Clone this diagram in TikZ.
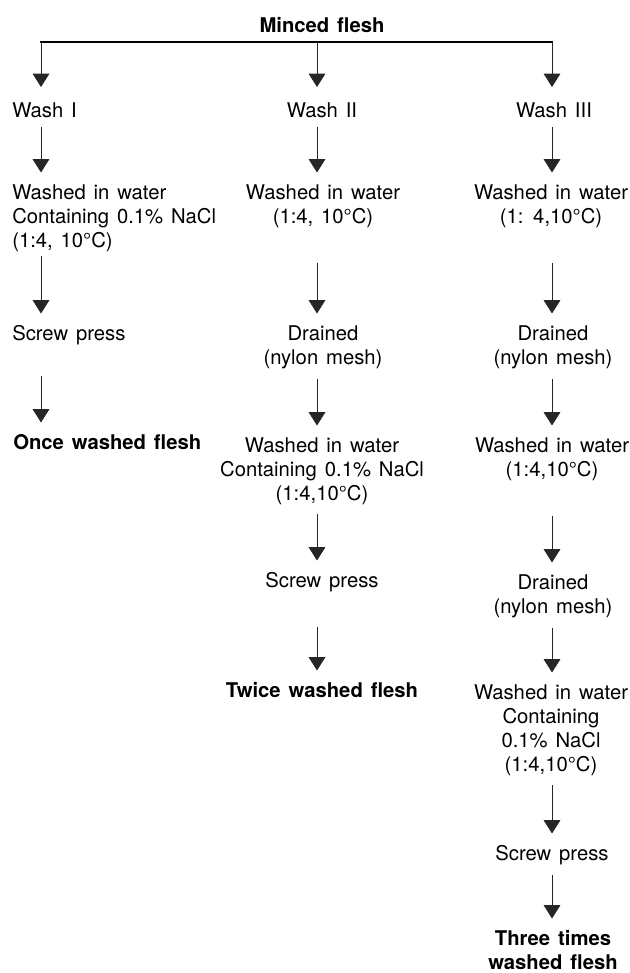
\documentclass[tikz,border=0pt]{standalone}
\usepackage{fontspec}
\setmainfont{TeX Gyre Heros}[WordSpace=1.4]
\usepackage{tikz}
\usetikzlibrary{arrows.meta}

\begin{document}
\begin{tikzpicture}[x=0.75pt,y=0.75pt,yscale=-1,xscale=1,
  txt/.style={inner sep=0pt, anchor=north, align=center, font=\fontsize{15.2}{18}\selectfont},
  txtl/.style={txt, anchor=north west, align=left},
  bold/.style={font=\fontsize{15.2}{18}\selectfont\bfseries},
  flow/.style={draw=black!85, line width=0.6pt, -{Triangle[width=12.5pt,length=10pt]}, shorten <=7pt, shorten >=9pt},
  longgap/.style={shorten <=26pt}]
\useasboundingbox (0,0) rectangle (630,973);

% Text Node
\draw (322,17.5) node [txt, bold] (mf) {Minced flesh};

%Split line
\coordinate (colA) at (41,42);
\coordinate (colB) at (317,42);
\coordinate (colC) at (552,42);
\draw [line width=1.1pt, line cap=rect]  (colA) -- (colC) ;

% Text Node
\draw (12,102.5) node [txtl] (w1) {Wash I};
% Text Node
\draw (12,184.5) node [txtl] (a1) {Washed in water\\Containing 0.1\% NaCl\\(1:4, 10°C)};
% Text Node
\draw (12,325.5) node [txtl] (s1) {Screw press};
% Text Node
\draw (13,434.5) node [txtl, bold] (o1) {Once washed flesh};

% Text Node
\draw (322,102.5) node [txt] (w2) {Wash II};
% Text Node
\draw (323,184.5) node [txt] (a2) {Washed in water\\(1:4, 10°C)};
% Text Node
\draw (323,325.5) node [txt] (d2) {Drained\\(nylon mesh)};
% Text Node
\draw (322,437.5) node [txt] (b2) {Washed in water\\Containing 0.1\% NaCl\\(1:4,10°C)};
% Text Node
\draw (322,572.5) node [txt] (s2) {Screw press};
% Text Node
\draw (322,682.5) node [txt, bold] (t2) {Twice washed flesh};

% Text Node
\draw (554,102.5) node [txt] (w3) {Wash III};
% Text Node
\draw (551,184.5) node [txt] (a3) {Washed in water\\(1: 4,10°C)};
% Text Node
\draw (553,325.5) node [txt] (d3) {Drained\\(nylon mesh)};
% Text Node
\draw (552,437.5) node [txt] (b3) {Washed in water\\(1:4,10°C)};
% Text Node
\draw (553,574.5) node [txt] (e3) {Drained\\(nylon mesh)};
% Text Node
\draw (551,684.5) node [txt] (f3) {Washed in water\\Containing\\0.1\% NaCl\\(1:4,10°C)};
% Text Node
\draw (552,845.5) node [txt] (s3) {Screw press};
% Text Node
\draw (553,930.5) node [txt, bold] (t3) {Three times\\washed flesh};

%Straight Lines (drops from split line)
\draw [flow, shorten <=0pt, shorten >=11.6pt]  (colA) -- (w1.north -| colA) ;
\draw [flow, shorten <=0pt, shorten >=11.6pt]  (colB) -- (w2.north -| colB) ;
\draw [flow, shorten <=0pt, shorten >=11.6pt]  (colC) -- (w3.north -| colC) ;

%Straight Lines (Wash I)
\draw [flow]  (w1.south -| colA) -- (a1.north -| colA) ;
\draw [flow, shorten <=3pt]  (a1.south -| colA) -- (s1.north -| colA) ;
\draw [flow, shorten <=23pt]  (s1.south -| colA) -- (o1.north -| colA) ;

%Straight Lines (Wash II)
\draw [flow]  (w2.south -| colB) -- (a2.north -| colB) ;
\draw [flow, longgap]  (a2.south -| colB) -- (d2.north -| colB) ;
\draw [flow]  (d2.south -| colB) -- (b2.north -| colB) ;
\draw [flow]  (b2.south -| colB) -- (s2.north -| colB) ;
\draw [flow, longgap]  (s2.south -| colB) -- (t2.north -| colB) ;

%Straight Lines (Wash III)
\draw [flow]  (w3.south -| colC) -- (a3.north -| colC) ;
\draw [flow, longgap]  (a3.south -| colC) -- (d3.north -| colC) ;
\draw [flow]  (d3.south -| colC) -- (b3.north -| colC) ;
\draw [flow, longgap]  (b3.south -| colC) -- (e3.north -| colC) ;
\draw [flow]  (e3.south -| colC) -- (f3.north -| colC) ;
\draw [flow]  (f3.south -| colC) -- (s3.north -| colC) ;
\draw [flow]  (s3.south -| colC) -- (t3.north -| colC) ;

\end{tikzpicture}
\end{document}
